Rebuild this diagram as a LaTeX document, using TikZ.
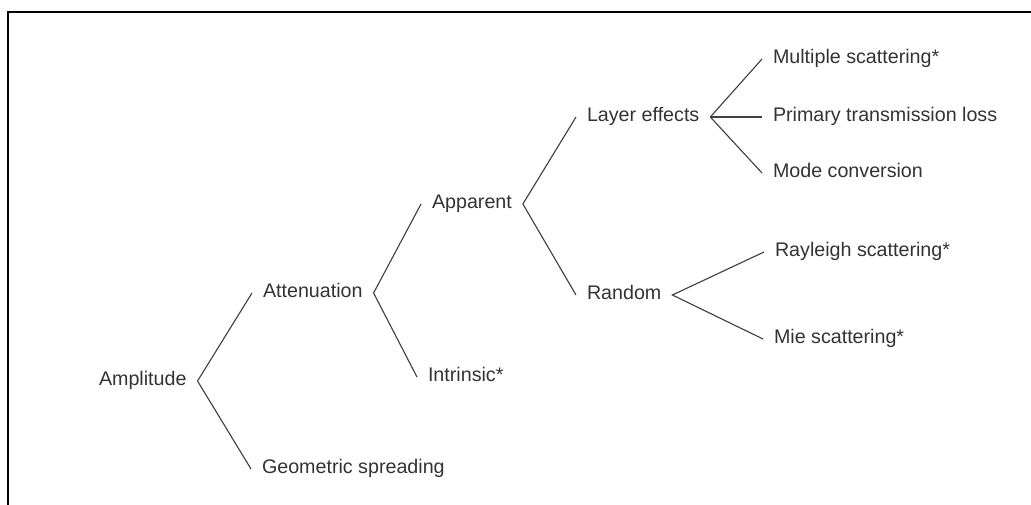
\documentclass[tikz,border=0pt]{standalone}
\usepackage{fontspec}
\setmainfont{Liberation Sans}
\usetikzlibrary{positioning}

\begin{document}
\begin{tikzpicture}[
    term/.style={anchor=west, inner sep=0pt, outer xsep=0.275cm, text height=0.72em, text depth=0.1em, text=black!80, font=\fontsize{14}{17}\selectfont},
    branch/.style={black!75, line width=0.8pt},
    frame/.style={black, line width=1.4pt}
]

    \useasboundingbox (0,0) rectangle (25.775,-12.625);

    % --- FRAME (top and left edges only) ---
    \draw[frame] (0.2,-12.625) -- (0.2,-0.3) -- (25.775,-0.3);

    % --- LEVEL 1 ---
    \node[term] (amp) at (2.2, -9.525) {Amplitude};

    % --- LEVEL 2 ---
    \node[term] (att) at (6.3, -7.325) {Attenuation};
    \node[term] (geo) at (6.275, -11.725) {Geometric spreading};

    % --- LEVEL 3 ---
    \node[term] (app) at (10.525, -5.1) {Apparent};
    \node[term] (intr) at (10.425, -9.425) {Intrinsic*};

    % --- LEVEL 4 ---
    \node[term] (lay) at (14.4, -2.925) {Layer effects};
    \node[term] (rand) at (14.4, -7.375) {Random};

    % --- LEVEL 5 ---
    \node[term] (mult) at (19.05, -1.475) {Multiple scattering*};
    \node[term] (prim) at (19.05, -2.925) {Primary transmission loss};
    \node[term] (mode) at (19.05, -4.325) {Mode conversion};
    \node[term] (ray) at (19.1, -6.3) {Rayleigh scattering*};
    \node[term] (mie) at (19.075, -8.475) {Mie scattering*};

    % --- BRANCHES ---
    \draw[branch] (att.west) -- (amp.east) -- (geo.west);
    \draw[branch] (app.west) -- (att.east) -- (intr.west);
    \draw[branch] (lay.west) -- (app.east) -- (rand.west);
    \draw[branch] (mult.west) -- (lay.east) -- (mode.west);
    \draw[branch] (lay.east) -- (prim.west);
    \draw[branch] (ray.west) -- (rand.east) -- (mie.west);

\end{tikzpicture}
\end{document}
